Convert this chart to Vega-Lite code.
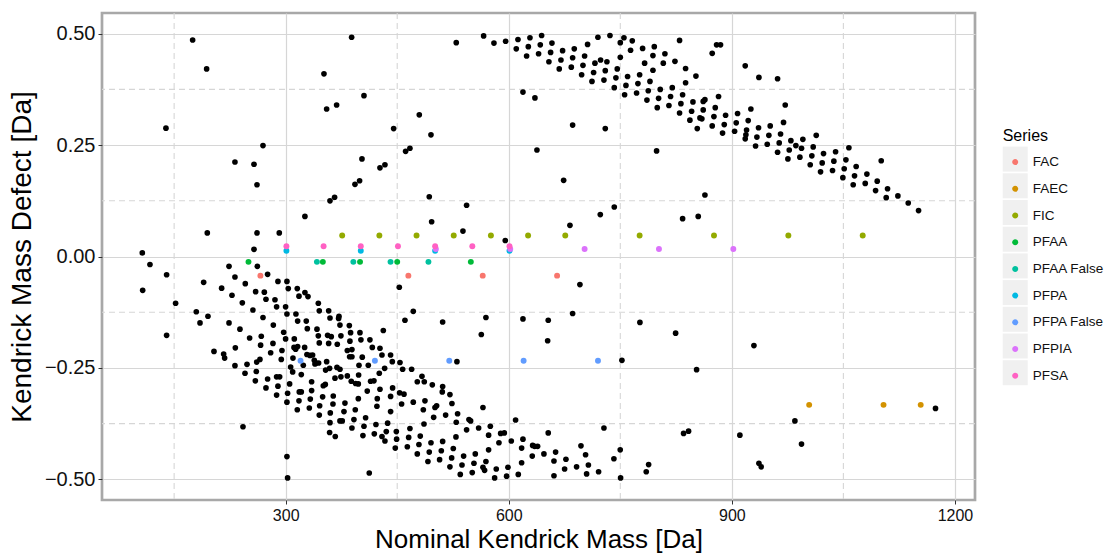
{
  "$schema": "https://vega.github.io/schema/vega-lite/v6.json",
  "autosize": {"type": "none"},
  "padding": {"left": 102, "top": 13, "right": 130, "bottom": 54},
  "width": 873,
  "height": 487,
  "config": {
    "font": "Liberation Sans",
    "view": {"stroke": "#a8a8a8", "strokeWidth": 2.7},
    "axis": {"domain": false, "gridColor": "#d6d6d6", "gridWidth": 1.2, "tickColor": "#333333", "tickSize": 4, "tickWidth": 1, "labelColor": "#111111", "titleColor": "#000000", "titleFontWeight": "normal", "titleFontSize": 28},
    "axisX": {"titleFontSize": 26}
  },
  "datasets": {
    "gx": [{"v": 150}, {"v": 450}, {"v": 750}, {"v": 1050}],
    "gy": [{"v": -0.375}, {"v": -0.125}, {"v": 0.125}, {"v": 0.375}],
    "ser": [
      {"m": 266, "d": -0.043, "s": "FAC"}, {"m": 465, "d": -0.043, "s": "FAC"}, {"m": 565, "d": -0.043, "s": "FAC"}, {"m": 665, "d": -0.043, "s": "FAC"},
      {"m": 1004, "d": -0.333, "s": "FAEC"}, {"m": 1104, "d": -0.333, "s": "FAEC"}, {"m": 1154, "d": -0.333, "s": "FAEC"},
      {"m": 376, "d": 0.047, "s": "FIC"}, {"m": 426, "d": 0.047, "s": "FIC"}, {"m": 476, "d": 0.047, "s": "FIC"}, {"m": 526, "d": 0.047, "s": "FIC"}, {"m": 576, "d": 0.047, "s": "FIC"}, {"m": 626, "d": 0.047, "s": "FIC"}, {"m": 676, "d": 0.047, "s": "FIC"}, {"m": 776, "d": 0.047, "s": "FIC"}, {"m": 876, "d": 0.047, "s": "FIC"}, {"m": 976, "d": 0.047, "s": "FIC"}, {"m": 1076, "d": 0.047, "s": "FIC"},
      {"m": 250, "d": -0.012, "s": "PFAA"}, {"m": 350, "d": -0.012, "s": "PFAA"}, {"m": 400, "d": -0.012, "s": "PFAA"}, {"m": 450, "d": -0.012, "s": "PFAA"}, {"m": 549, "d": -0.012, "s": "PFAA"},
      {"m": 342, "d": -0.012, "s": "PFAA False"}, {"m": 391, "d": -0.012, "s": "PFAA False"}, {"m": 441, "d": -0.012, "s": "PFAA False"}, {"m": 492, "d": -0.012, "s": "PFAA False"},
      {"m": 301, "d": 0.013, "s": "PFPA"}, {"m": 401, "d": 0.013, "s": "PFPA"}, {"m": 501, "d": 0.013, "s": "PFPA"}, {"m": 601, "d": 0.013, "s": "PFPA"},
      {"m": 320, "d": -0.234, "s": "PFPA False"}, {"m": 420, "d": -0.234, "s": "PFPA False"}, {"m": 520, "d": -0.234, "s": "PFPA False"}, {"m": 620, "d": -0.234, "s": "PFPA False"}, {"m": 720, "d": -0.234, "s": "PFPA False"},
      {"m": 502, "d": 0.017, "s": "PFPIA"}, {"m": 602, "d": 0.017, "s": "PFPIA"}, {"m": 702, "d": 0.017, "s": "PFPIA"}, {"m": 802, "d": 0.017, "s": "PFPIA"}, {"m": 902, "d": 0.017, "s": "PFPIA"},
      {"m": 301, "d": 0.023, "s": "PFSA"}, {"m": 351, "d": 0.023, "s": "PFSA"}, {"m": 401, "d": 0.023, "s": "PFSA"}, {"m": 451, "d": 0.023, "s": "PFSA"}, {"m": 501, "d": 0.023, "s": "PFSA"}, {"m": 551, "d": 0.023, "s": "PFSA"}, {"m": 601, "d": 0.023, "s": "PFSA"}
    ],
    "bg": [
      {"m":174.9,"d":0.486},{"m":193.7,"d":0.421},{"m":139.0,"d":0.288},{"m":388.7,"d":0.492},{"m":351.5,"d":0.410},{"m":405.3,"d":0.361},{"m":355.1,"d":0.331},{"m":368.5,"d":0.340},{"m":445.2,"d":0.287},{"m":269.5,"d":0.249},{"m":231.8,"d":0.212},{"m":257.4,"d":0.207},{"m":261.4,"d":0.161},{"m":402.6,"d":0.219},{"m":426.8,"d":0.199},{"m":433.5,"d":0.206},{"m":393.2,"d":0.162},{"m":399.4,"d":0.170},{"m":359.6,"d":0.125},{"m":365.8,"d":0.133},{"m":325.9,"d":0.090},{"m":194.6,"d":0.053},{"m":261.4,"d":0.053},{"m":291.4,"d":0.053},{"m":107.2,"d":0.008},{"m":257.4,"d":0.016},
      {"m":529.4,"d":0.480},{"m":479.7,"d":0.318},{"m":495.4,"d":0.273},{"m":461.3,"d":0.236},{"m":467.1,"d":0.243},{"m":619.1,"d":0.369},{"m":635.2,"d":0.356},{"m":685.9,"d":0.295},{"m":729.8,"d":0.287},{"m":637.9,"d":0.239},{"m":798.8,"d":0.237},{"m":673.8,"d":0.171},{"m":493.1,"d":0.134},{"m":543.3,"d":0.115},{"m":496.3,"d":0.078},{"m":538.4,"d":0.057},{"m":595.3,"d":0.036},{"m":682.3,"d":0.070},{"m":723.1,"d":0.094},{"m":741.9,"d":0.111},{"m":833.8,"d":0.085},{"m":854.8,"d":0.090},{"m":829.7,"d":0.485},
      {"m":566.2,"d":0.495},{"m":580.1,"d":0.479},{"m":595.8,"d":0.483},{"m":612.4,"d":0.487},{"m":628.5,"d":0.491},{"m":644.2,"d":0.496},{"m":610.1,"d":0.466},{"m":626.3,"d":0.471},{"m":642.4,"d":0.475},{"m":658.1,"d":0.479},{"m":624.0,"d":0.450},{"m":640.1,"d":0.455},{"m":656.3,"d":0.458},{"m":672.4,"d":0.462},{"m":688.1,"d":0.466},{"m":706.0,"d":0.476},{"m":719.9,"d":0.492},{"m":736.1,"d":0.496},{"m":654.0,"d":0.437},{"m":670.2,"d":0.441},{"m":685.9,"d":0.446},{"m":702.0,"d":0.450},{"m":667.9,"d":0.421},{"m":684.1,"d":0.425},{"m":699.8,"d":0.429},{"m":715.9,"d":0.434},{"m":723.5,"d":0.441},{"m":732.0,"d":0.437},{"m":698.0,"d":0.408},{"m":714.1,"d":0.413},{"m":729.8,"d":0.417},{"m":745.9,"d":0.421},{"m":711.9,"d":0.393},{"m":728.0,"d":0.396},{"m":744.1,"d":0.401},{"m":741.9,"d":0.379},{"m":750.0,"d":0.447},{"m":750.0,"d":0.480},{"m":754.9,"d":0.491},{"m":766.1,"d":0.484},{"m":763.8,"d":0.463},{"m":780.0,"d":0.467},{"m":795.7,"d":0.471},{"m":782.7,"d":0.434},{"m":793.9,"d":0.451},{"m":810.0,"d":0.455},{"m":807.8,"d":0.434},{"m":823.5,"d":0.438},{"m":793.9,"d":0.418},{"m":759.8,"d":0.404},{"m":776.0,"d":0.408},{"m":789.9,"d":0.393},{"m":757.6,"d":0.384},{"m":773.7,"d":0.388},{"m":755.8,"d":0.363},{"m":771.9,"d":0.367},{"m":787.6,"d":0.372},{"m":785.8,"d":0.351},{"m":803.7,"d":0.375},{"m":819.9,"d":0.379},{"m":801.5,"d":0.355},{"m":817.6,"d":0.359},{"m":799.7,"d":0.334},{"m":815.4,"d":0.339},{"m":833.8,"d":0.363},{"m":831.5,"d":0.343},{"m":829.7,"d":0.322},{"m":847.7,"d":0.347},{"m":845.9,"d":0.326},{"m":843.6,"d":0.306},{"m":853.5,"d":0.287},{"m":837.8,"d":0.422},{"m":851.7,"d":0.405},{"m":837.8,"d":0.390},{"m":857.1,"d":0.311},
      {"m":873.6,"d":0.456},{"m":879.5,"d":0.475},{"m":884.8,"d":0.475},{"m":918.0,"d":0.428},{"m":936.4,"d":0.402},{"m":961.5,"d":0.399},{"m":882.1,"d":0.359},{"m":861.5,"d":0.348},{"m":863.8,"d":0.352},{"m":861.5,"d":0.329},{"m":859.7,"d":0.309},{"m":877.7,"d":0.334},{"m":875.9,"d":0.314},{"m":873.6,"d":0.293},{"m":891.6,"d":0.317},{"m":889.8,"d":0.296},{"m":887.5,"d":0.277},{"m":907.7,"d":0.321},{"m":905.9,"d":0.300},{"m":903.7,"d":0.281},{"m":925.6,"d":0.331},{"m":922.0,"d":0.305},{"m":919.8,"d":0.284},{"m":918.0,"d":0.264},{"m":918.9,"d":0.273},{"m":935.9,"d":0.289},{"m":933.7,"d":0.268},{"m":931.9,"d":0.248},{"m":951.6,"d":0.293},{"m":949.8,"d":0.272},{"m":947.6,"d":0.252},{"m":971.8,"d":0.340},{"m":969.5,"d":0.301},{"m":965.5,"d":0.275},{"m":963.7,"d":0.255},{"m":961.5,"d":0.234},{"m":979.4,"d":0.260},{"m":977.2,"d":0.239},{"m":975.4,"d":0.219},{"m":986.1,"d":0.249},{"m":995.5,"d":0.263},{"m":993.7,"d":0.243},{"m":991.5,"d":0.223},{"m":1013.5,"d":0.272},{"m":1009.4,"d":0.246},{"m":1007.6,"d":0.226},{"m":1005.4,"d":0.206},{"m":1023.3,"d":0.231},{"m":1021.5,"d":0.210},{"m":1019.3,"d":0.190},{"m":1039.5,"d":0.235},{"m":1037.2,"d":0.214},{"m":1035.4,"d":0.193},{"m":1057.4,"d":0.244},{"m":1053.4,"d":0.217},{"m":1051.1,"d":0.197},{"m":1049.3,"d":0.177},{"m":1067.2,"d":0.202},{"m":1065.0,"d":0.181},{"m":1063.2,"d":0.161},{"m":1081.6,"d":0.185},{"m":1079.4,"d":0.164},{"m":1095.5,"d":0.169},{"m":1093.3,"d":0.148},{"m":1100.9,"d":0.215},{"m":1109.4,"d":0.152},{"m":1107.6,"d":0.132},{"m":1123.3,"d":0.136},{"m":1137.2,"d":0.120},{"m":1151.1,"d":0.103},{"m":863.8,"d":0.138},
      {"m":117.5,"d":-0.018},{"m":139.9,"d":-0.041},{"m":107.7,"d":-0.076},{"m":152.0,"d":-0.105},{"m":139.9,"d":-0.177},{"m":223.8,"d":-0.022},{"m":261.9,"d":-0.022},{"m":231.8,"d":-0.046},{"m":275.7,"d":-0.040},{"m":189.7,"d":-0.058},{"m":245.7,"d":-0.061},{"m":213.9,"d":-0.071},{"m":227.8,"d":-0.087},{"m":259.6,"d":-0.079},{"m":271.3,"d":-0.080},{"m":289.6,"d":-0.056},{"m":301.7,"d":-0.056},{"m":303.5,"d":-0.072},{"m":315.6,"d":-0.072},{"m":325.9,"d":-0.081},{"m":317.9,"d":-0.089},{"m":330.0,"d":-0.090},{"m":273.5,"d":-0.096},{"m":285.6,"d":-0.097},{"m":241.7,"d":-0.104},{"m":343.9,"d":-0.105},{"m":287.8,"d":-0.113},{"m":299.9,"d":-0.113},{"m":256.0,"d":-0.120},{"m":179.8,"d":-0.124},{"m":345.2,"d":-0.122},{"m":357.8,"d":-0.122},{"m":301.7,"d":-0.129},{"m":313.8,"d":-0.129},{"m":195.5,"d":-0.134},{"m":371.7,"d":-0.134},{"m":371.2,"d":-0.139},{"m":269.5,"d":-0.137},{"m":184.8,"d":-0.149},{"m":223.8,"d":-0.149},{"m":316.1,"d":-0.145},{"m":327.7,"d":-0.145},{"m":359.6,"d":-0.138},{"m":283.4,"d":-0.154},{"m":373.0,"d":-0.154},{"m":385.6,"d":-0.155},{"m":238.5,"d":-0.163},{"m":329.1,"d":-0.162},{"m":342.1,"d":-0.163},{"m":297.3,"d":-0.170},{"m":387.3,"d":-0.171},{"m":399.9,"d":-0.171},{"m":431.3,"d":-0.166},{"m":267.2,"d":-0.179},{"m":251.5,"d":-0.183},{"m":299.9,"d":-0.185},{"m":311.6,"d":-0.185},{"m":343.9,"d":-0.178},{"m":356.4,"d":-0.177},{"m":361.3,"d":-0.180},{"m":374.3,"d":-0.178},{"m":386.4,"d":-0.190},{"m":401.2,"d":-0.187},{"m":413.3,"d":-0.187},{"m":282.9,"d":-0.195},{"m":266.3,"d":-0.199},{"m":232.3,"d":-0.205},{"m":345.2,"d":-0.194},{"m":357.8,"d":-0.195},{"m":369.4,"d":-0.197},{"m":416.5,"d":-0.204},{"m":426.8,"d":-0.206},{"m":203.6,"d":-0.213},{"m":295.0,"d":-0.211},{"m":311.2,"d":-0.204},{"m":316.1,"d":-0.202},{"m":325.5,"d":-0.204},{"m":313.4,"d":-0.208},{"m":382.9,"d":-0.211},{"m":389.1,"d":-0.209},{"m":429.5,"d":-0.221},{"m":441.1,"d":-0.221},{"m":216.6,"d":-0.219},{"m":217.9,"d":-0.228},{"m":279.8,"d":-0.216},{"m":328.6,"d":-0.220},{"m":336.2,"d":-0.221},{"m":332.7,"d":-0.222},{"m":386.0,"d":-0.225},{"m":389.1,"d":-0.225},{"m":403.0,"d":-0.226},{"m":265.4,"d":-0.231},{"m":261.0,"d":-0.237},{"m":294.1,"d":-0.231},{"m":309.8,"d":-0.228},{"m":338.5,"d":-0.233},{"m":340.7,"d":-0.239},{"m":344.3,"d":-0.239},{"m":355.1,"d":-0.236},{"m":443.4,"d":-0.236},{"m":453.7,"d":-0.238},{"m":231.8,"d":-0.245},{"m":248.0,"d":-0.242},{"m":306.7,"d":-0.248},{"m":323.7,"d":-0.244},{"m":339.4,"d":-0.241},{"m":353.7,"d":-0.255},{"m":359.1,"d":-0.251},{"m":369.0,"d":-0.249},{"m":373.0,"d":-0.253},{"m":398.6,"d":-0.244},{"m":411.1,"d":-0.244},{"m":433.1,"d":-0.251},{"m":309.4,"d":-0.259},{"m":321.0,"d":-0.265},{"m":366.3,"d":-0.273},{"m":374.3,"d":-0.270},{"m":382.9,"d":-0.268},{"m":398.1,"d":-0.266},{"m":425.9,"d":-0.262},{"m":260.5,"d":-0.258},{"m":245.3,"d":-0.262},{"m":275.7,"d":-0.275},{"m":287.8,"d":-0.270},{"m":291.9,"d":-0.270},{"m":259.2,"d":-0.279},{"m":334.9,"d":-0.281},{"m":388.2,"d":-0.280},{"m":394.1,"d":-0.285},{"m":397.7,"d":-0.286},{"m":414.2,"d":-0.280},{"m":418.7,"d":-0.279},{"m":305.3,"d":-0.286},{"m":289.6,"d":-0.291},{"m":273.5,"d":-0.295},{"m":350.6,"d":-0.290},{"m":353.3,"d":-0.287},{"m":409.7,"d":-0.302},{"m":426.8,"d":-0.298},{"m":443.8,"d":-0.295},{"m":318.3,"d":-0.304},{"m":321.0,"d":-0.304},{"m":302.6,"d":-0.307},{"m":287.8,"d":-0.311},{"m":334.9,"d":-0.301},{"m":349.7,"d":-0.315},{"m":364.0,"d":-0.313},{"m":397.7,"d":-0.319},{"m":423.2,"d":-0.319},{"m":441.1,"d":-0.314},{"m":453.2,"d":-0.306},{"m":317.9,"d":-0.324},{"m":301.7,"d":-0.327},{"m":333.1,"d":-0.320},{"m":363.6,"d":-0.331},{"m":379.7,"d":-0.329},{"m":345.7,"d":-0.335},{"m":378.4,"d":-0.348},{"m":360.0,"d":-0.351},{"m":393.6,"d":-0.344},{"m":422.7,"d":-0.336},{"m":441.1,"d":-0.348},{"m":315.6,"d":-0.344},{"m":331.8,"d":-0.340},{"m":345.2,"d":-0.356},{"m":359.6,"d":-0.373},{"m":373.0,"d":-0.369},{"m":376.1,"d":-0.369},{"m":391.8,"d":-0.366},{"m":407.5,"d":-0.362},{"m":421.4,"d":-0.377},{"m":437.1,"d":-0.374},{"m":389.1,"d":-0.385},{"m":405.3,"d":-0.381},{"m":435.3,"d":-0.393},{"m":448.8,"d":-0.393},{"m":359.1,"d":-0.395},{"m":366.7,"d":-0.404},{"m":403.9,"d":-0.402},{"m":419.2,"d":-0.398},{"m":429.5,"d":-0.404},{"m":433.5,"d":-0.414},{"m":449.2,"d":-0.410},{"m":447.4,"d":-0.430},{"m":242.6,"d":-0.382},{"m":301.7,"d":-0.449},{"m":302.6,"d":-0.497},{"m":412.4,"d":-0.486},{"m":452.8,"d":-0.069},
      {"m":695.7,"d":-0.063},{"m":471.6,"d":-0.123},{"m":460.4,"d":-0.143},{"m":511.1,"d":-0.147},{"m":569.3,"d":-0.137},{"m":563.1,"d":-0.175},{"m":619.1,"d":-0.140},{"m":653.1,"d":-0.143},{"m":685.9,"d":-0.128},{"m":652.3,"d":-0.189},{"m":776.4,"d":-0.148},{"m":824.4,"d":-0.172},{"m":530.3,"d":-0.236},{"m":752.2,"d":-0.233},{"m":852.6,"d":-0.254},{"m":457.3,"d":-0.253},{"m":469.4,"d":-0.253},{"m":483.3,"d":-0.269},{"m":477.0,"d":-0.281},{"m":486.4,"d":-0.281},{"m":497.2,"d":-0.288},{"m":511.1,"d":-0.292},{"m":510.6,"d":-0.304},{"m":520.9,"d":-0.310},{"m":459.1,"d":-0.309},{"m":455.9,"d":-0.331},{"m":471.6,"d":-0.327},{"m":487.3,"d":-0.324},{"m":500.8,"d":-0.339},{"m":503.0,"d":-0.335},{"m":523.6,"d":-0.330},{"m":565.3,"d":-0.339},{"m":485.1,"d":-0.344},{"m":499.0,"d":-0.361},{"m":515.1,"d":-0.356},{"m":531.2,"d":-0.353},{"m":546.5,"d":-0.366},{"m":548.7,"d":-0.369},{"m":609.2,"d":-0.367},{"m":529.4,"d":-0.372},{"m":486.0,"d":-0.376},{"m":467.1,"d":-0.386},{"m":559.5,"d":-0.385},{"m":543.3,"d":-0.389},{"m":575.2,"d":-0.381},{"m":572.9,"d":-0.401},{"m":589.1,"d":-0.397},{"m":594.0,"d":-0.396},{"m":653.1,"d":-0.396},{"m":728.0,"d":-0.385},{"m":835.1,"d":-0.397},{"m":841.8,"d":-0.392},{"m":465.4,"d":-0.406},{"m":481.0,"d":-0.403},{"m":511.1,"d":-0.415},{"m":529.0,"d":-0.405},{"m":586.8,"d":-0.418},{"m":603.4,"d":-0.414},{"m":619.1,"d":-0.410},{"m":463.6,"d":-0.427},{"m":479.2,"d":-0.422},{"m":495.4,"d":-0.418},{"m":525.4,"d":-0.431},{"m":572.9,"d":-0.434},{"m":617.3,"d":-0.430},{"m":632.1,"d":-0.424},{"m":634.8,"d":-0.426},{"m":638.8,"d":-0.426},{"m":697.1,"d":-0.425},{"m":477.0,"d":-0.443},{"m":493.1,"d":-0.439},{"m":509.3,"d":-0.436},{"m":555.0,"d":-0.443},{"m":539.3,"d":-0.448},{"m":631.6,"d":-0.448},{"m":647.3,"d":-0.443},{"m":663.0,"d":-0.439},{"m":703.3,"d":-0.445},{"m":749.9,"d":-0.434},{"m":741.4,"d":-0.454},{"m":491.3,"d":-0.460},{"m":507.0,"d":-0.456},{"m":523.2,"d":-0.452},{"m":569.3,"d":-0.460},{"m":553.2,"d":-0.464},{"m":617.3,"d":-0.463},{"m":660.8,"d":-0.459},{"m":676.9,"d":-0.455},{"m":707.1,"d":-0.468},{"m":788.1,"d":-0.467},{"m":520.9,"d":-0.472},{"m":537.1,"d":-0.468},{"m":565.3,"d":-0.473},{"m":567.5,"d":-0.480},{"m":583.2,"d":-0.477},{"m":598.9,"d":-0.473},{"m":675.1,"d":-0.477},{"m":691.2,"d":-0.472},{"m":784.9,"d":-0.483},{"m":534.8,"d":-0.489},{"m":550.9,"d":-0.485},{"m":581.0,"d":-0.497},{"m":597.1,"d":-0.493},{"m":612.8,"d":-0.489},{"m":660.8,"d":-0.492},{"m":704.7,"d":-0.488},{"m":720.8,"d":-0.483},{"m":750.4,"d":-0.497},
      {"m":929.7,"d":-0.200},{"m":1173.9,"d":-0.341},{"m":984.8,"d":-0.369},{"m":910.8,"d":-0.401},{"m":993.7,"d":-0.421},{"m":936.4,"d":-0.464},{"m":939.5,"d":-0.472}
    ]
  },
  "layer": [
    {
      "data": {"name": "gx"},
      "mark": {"type": "rule", "color": "#d6d6d6", "strokeWidth": 1.1, "strokeDash": [6, 4]},
      "encoding": {"x": {"field": "v", "type": "quantitative", "scale": {"domain": [53, 1227], "nice": false, "zero": false}, "title": "Nominal Kendrick Mass [Da]",
          "axis": {"values": [300, 600, 900, 1200], "format": "d", "labelFontSize": 16, "labelPadding": 3, "titlePadding": 3, "grid": true}}}
    },
    {
      "data": {"name": "gy"},
      "mark": {"type": "rule", "color": "#d6d6d6", "strokeWidth": 1.1, "strokeDash": [6, 4]},
      "encoding": {"y": {"field": "v", "type": "quantitative", "scale": {"domain": [-0.5465, 0.5465], "nice": false, "zero": false}, "title": "Kendrick Mass Defect [Da]",
          "axis": {"values": [-0.5, -0.25, 0, 0.25, 0.5], "format": ".2f", "labelFontSize": 20, "labelPadding": 3, "titlePadding": 8, "grid": true}}}
    },
    {
      "data": {"name": "ser"},
      "mark": {"type": "square", "opacity": 0, "size": 10},
      "encoding": {
        "x": {"field": "m", "type": "quantitative", "title": "Nominal Kendrick Mass [Da]",
          "axis": {"values": [300, 600, 900, 1200], "format": "d", "labelFontSize": 16, "labelPadding": 3, "titlePadding": 3, "grid": true}},
        "y": {"field": "d", "type": "quantitative", "title": "Kendrick Mass Defect [Da]",
          "axis": {"values": [-0.5, -0.25, 0, 0.25, 0.5], "format": ".2f", "labelFontSize": 20, "labelPadding": 3, "titlePadding": 8, "grid": true}},
        "color": {
          "field": "s", "type": "nominal",
          "scale": {"domain": ["FAC", "FAEC", "FIC", "PFAA", "PFAA False", "PFPA", "PFPA False", "PFPIA", "PFSA"], "range": ["#f0f0f0", "#f0f0f0", "#f0f0f0", "#f0f0f0", "#f0f0f0", "#f0f0f0", "#f0f0f0", "#f0f0f0", "#f0f0f0"]},
          "legend": {"title": " ", "orient": "none", "legendX": 900.7, "legendY": 115, "padding": 0, "symbolType": "square", "symbolSize": 625, "symbolOpacity": 1, "symbolStrokeWidth": 0, "titleFontSize": 16, "titleFontWeight": "normal", "titleColor": "rgba(0,0,0,0)", "titlePadding": 2.6, "labelFontSize": 13.5, "labelExpr": "''", "labelColor": "rgba(0,0,0,0)", "labelOffset": 5, "rowPadding": 1.7, "zindex": 1}
        }
      }
    },
    {
      "data": {"name": "bg"},
      "mark": {"type": "circle", "color": "#000000", "size": 32, "opacity": 1},
      "encoding": {
        "x": {"field": "m", "type": "quantitative", "title": "Nominal Kendrick Mass [Da]",
          "axis": {"values": [300, 600, 900, 1200], "format": "d", "labelFontSize": 16, "labelPadding": 3, "titlePadding": 3, "grid": true}},
        "y": {"field": "d", "type": "quantitative", "title": "Kendrick Mass Defect [Da]",
          "axis": {"values": [-0.5, -0.25, 0, 0.25, 0.5], "format": ".2f", "labelFontSize": 20, "labelPadding": 3, "titlePadding": 8, "grid": true}}
      }
    },
    {
      "data": {"name": "ser"},
      "mark": {"type": "point", "filled": true, "size": 35, "opacity": 1},
      "encoding": {
        "x": {"field": "m", "type": "quantitative", "title": "Nominal Kendrick Mass [Da]",
          "axis": {"values": [300, 600, 900, 1200], "format": "d", "labelFontSize": 16, "labelPadding": 3, "titlePadding": 3, "grid": true}},
        "y": {"field": "d", "type": "quantitative", "title": "Kendrick Mass Defect [Da]",
          "axis": {"values": [-0.5, -0.25, 0, 0.25, 0.5], "format": ".2f", "labelFontSize": 20, "labelPadding": 3, "titlePadding": 8, "grid": true}},
        "fill": {
          "field": "s", "type": "nominal",
          "scale": {"range": ["#F8766D", "#D39200", "#93AA00", "#00BA38", "#00C19F", "#00B9E3", "#619CFF", "#DB72FB", "#FF61C3"]},
          "legend": {"title": "Series", "orient": "none", "legendX": 900.7, "legendY": 115, "padding": 0, "symbolType": "M -0.24,0 A 0.24,0.24 0 1,0 0.24,0 A 0.24,0.24 0 1,0 -0.24,0 Z", "symbolSize": 625, "symbolOpacity": 1, "symbolStrokeWidth": 0, "titleFontSize": 16, "titleFontWeight": "normal", "titleColor": "#000000", "titlePadding": 5.6, "labelFontSize": 13.5, "labelColor": "#111111", "labelOffset": 5, "rowPadding": 7.7, "zindex": 2}
        }
      }
    }
  ]
}
